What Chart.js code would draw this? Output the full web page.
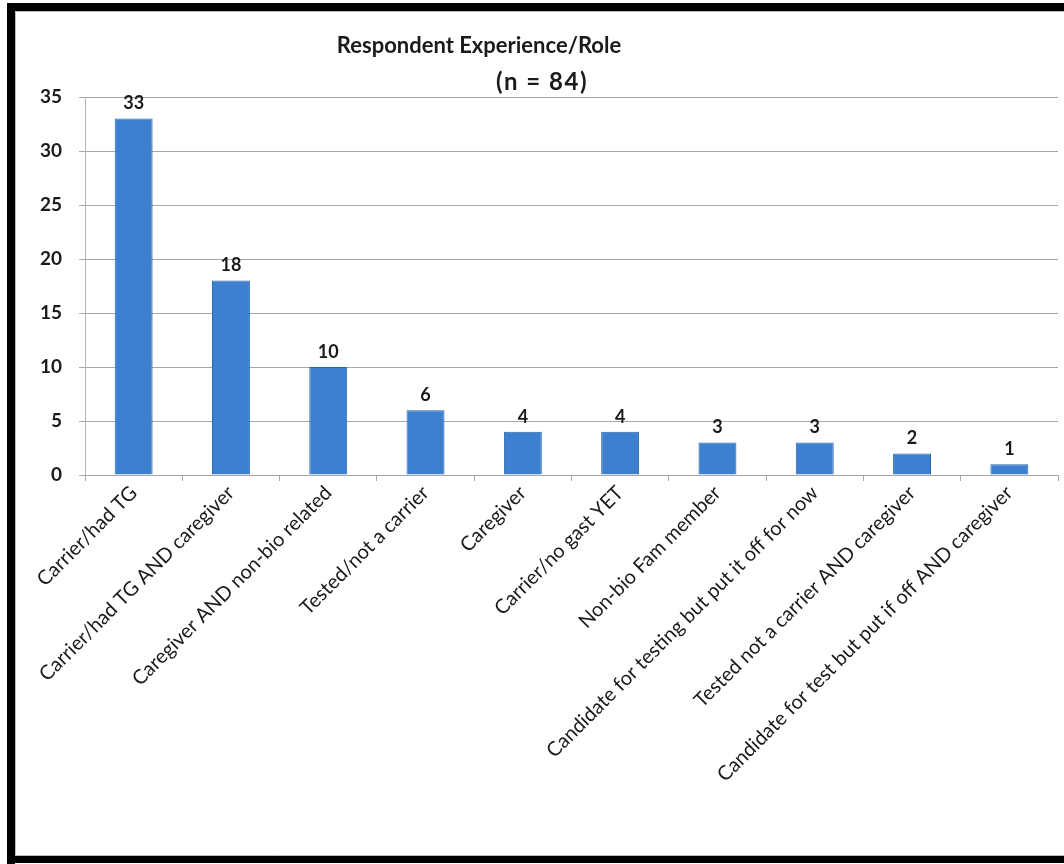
<!DOCTYPE html>
<html>
<head>
<meta charset="utf-8">
<script src="https://cdn.jsdelivr.net/npm/chart.js@4/dist/chart.umd.min.js"></script>
<style>
  html, body { margin: 0; padding: 0; background: #fff; overflow: hidden; }
  canvas { display: block; }
</style>
</head>
<body>
<canvas id="roleChart" width="1064" height="864"></canvas>
<script>
const titleLines = ['Respondent Experience/Role', '(n = 84)'];
const roles = [
  'Carrier/had TG',
  'Carrier/had TG AND caregiver',
  'Caregiver AND non-bio related',
  'Tested/not a carrier',
  'Caregiver',
  'Carrier/no gast YET',
  'Non-bio Fam member',
  'Candidate for testing but put it off for now',
  'Tested not a carrier AND caregiver',
  'Candidate for test but put if off AND caregiver'
];
const counts = [33, 18, 10, 6, 4, 4, 3, 3, 2, 1];
const yMax = 35;
const yStep = 5;

const FONT = 'Lato, "Open Sans", sans-serif';

// white page with the thick black slide frame (open on the right side)
const framePlugin = {
  id: 'frame',
  beforeDraw(chart) {
    const ctx = chart.ctx;
    const w = chart.width, h = chart.height;
    ctx.save();
    ctx.fillStyle = '#fff';
    ctx.fillRect(0, 0, w, h);
    ctx.fillStyle = '#000';
    ctx.fillRect(7, 3, w - 7, 8);     // top
    ctx.fillRect(7, 3, 8, h - 3);     // left
    ctx.fillRect(7, h - 8, w - 7, 7); // bottom
    ctx.strokeStyle = '#bbb';
    ctx.lineWidth = 1;
    ctx.beginPath();
    ctx.moveTo(15.5, h - 8.5);
    ctx.lineTo(15.5, 11.5);
    ctx.lineTo(w, 11.5);
    ctx.moveTo(15.5, h - 8.5);
    ctx.lineTo(w, h - 8.5);
    ctx.stroke();
    ctx.restore();
  }
};

// two-line heading, each line centred on its own spot like the old slide
const headingPlugin = {
  id: 'heading',
  afterDraw(chart) {
    const ctx = chart.ctx;
    ctx.save();
    ctx.fillStyle = '#1a1a1a';
    ctx.font = 'bold 22px ' + FONT;
    ctx.textAlign = 'center';
    ctx.textBaseline = 'alphabetic';
    ctx.fillText(titleLines[0], 479, 53);
    ctx.font = 'bold 24px ' + FONT;
    ctx.letterSpacing = '1.5px';
    ctx.fillText(titleLines[1], 542, 90);
    ctx.restore();
  }
};

// value printed over each bar
const valueLabels = {
  id: 'valueLabels',
  afterDatasetsDraw(chart) {
    const ctx = chart.ctx;
    const meta = chart.getDatasetMeta(0);
    ctx.save();
    ctx.fillStyle = '#1a1a1a';
    ctx.font = 'bold 18px ' + FONT;
    ctx.textAlign = 'center';
    ctx.textBaseline = 'bottom';
    meta.data.forEach((bar, i) => {
      ctx.fillText(String(counts[i]), bar.x, bar.y - 6);
    });
    ctx.restore();
  }
};

new Chart(document.getElementById('roleChart').getContext('2d'), {
  type: 'bar',
  data: {
    labels: roles,
    datasets: [{
      data: counts,
      backgroundColor: '#3d80cf',
      borderColor: '#2c66ad',
      borderWidth: 1,
      categoryPercentage: 1,
      barPercentage: 0.39
    }]
  },
  options: {
    responsive: false,
    animation: false,
    layout: { padding: { top: 97, right: 6, left: 0, bottom: 0 } },
    plugins: { legend: { display: false }, tooltip: { enabled: false }, title: { display: false } },
    scales: {
      x: {
        afterFit: s => { s.height = 389; },
        border: { color: '#a8a8a8' },
        grid: { drawOnChartArea: false, drawTicks: true, tickLength: 6, color: '#a8a8a8' },
        ticks: {
          color: '#1a1a1a',
          font: { family: FONT, size: 20 },
          minRotation: 45, maxRotation: 45,
          autoSkip: false,
          padding: 0
        }
      },
      y: {
        min: 0, max: yMax,
        afterFit: s => { s.width = 85; },
        border: { color: '#b5b5b5' },
        grid: { color: '#a8a8a8', tickLength: 6 },
        ticks: {
          stepSize: yStep,
          color: '#1a1a1a',
          font: { family: FONT, size: 19, weight: 'bold' },
          padding: 17
        }
      }
    }
  },
  plugins: [framePlugin, headingPlugin, valueLabels]
});
</script>
</body>
</html>
